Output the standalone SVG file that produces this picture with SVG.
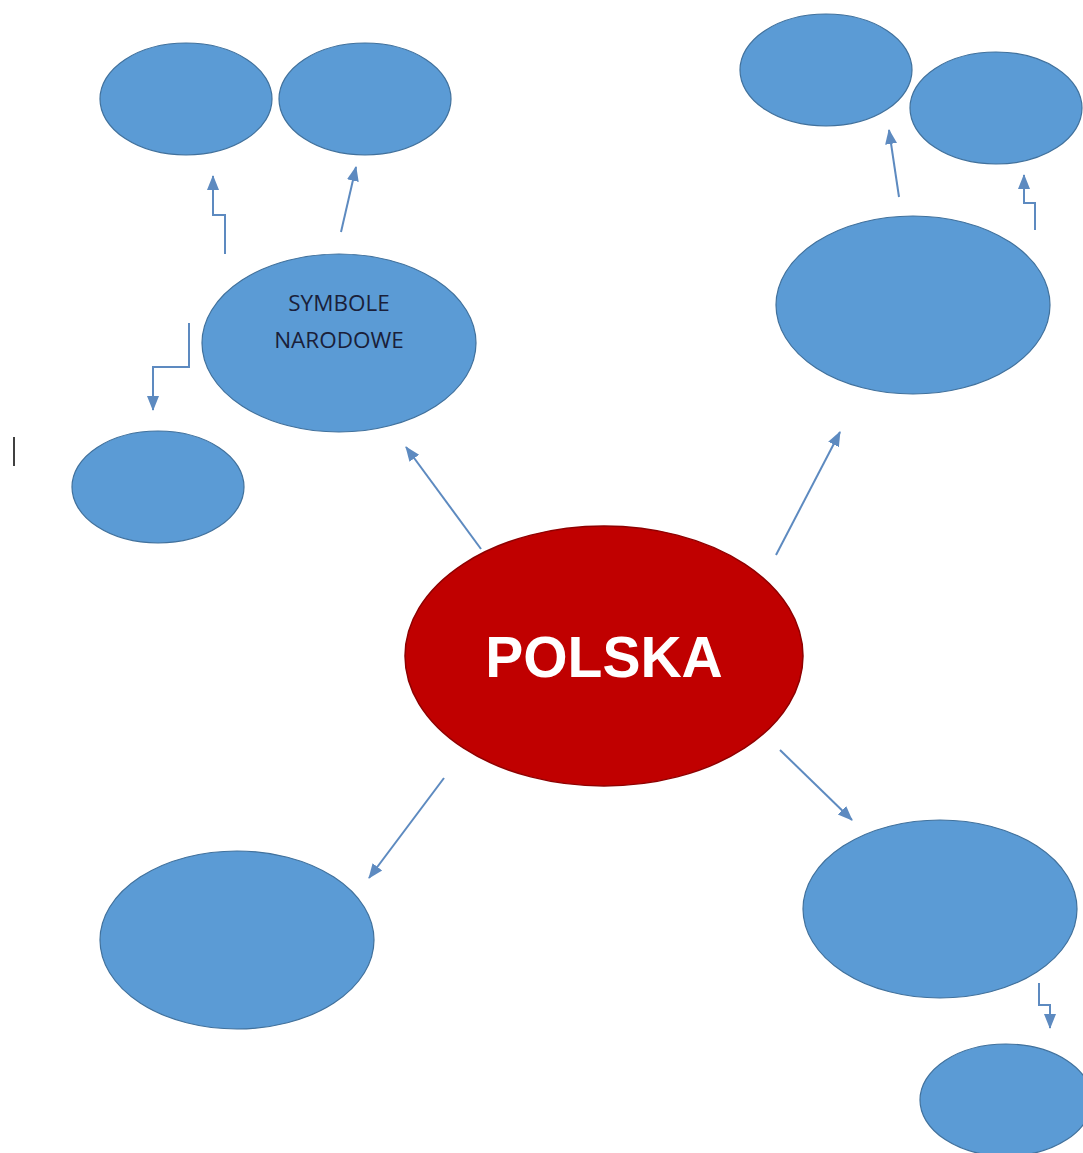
<svg xmlns="http://www.w3.org/2000/svg" width="1083" height="1153" viewBox="0 0 1083 1153">
<style>
.b{fill:#5B9BD5;stroke:#41719C;stroke-width:1.2}
.r{fill:#C00000;stroke:#8F0000;stroke-width:1.5}
.c{fill:none;stroke:#5D8AC0;stroke-width:2}
.t{font-family:"Open Sans","Liberation Sans",sans-serif;font-size:22.5px;fill:#1A1F3A;text-anchor:middle}
.p{font-family:"Liberation Sans",Arial,sans-serif;font-weight:bold;font-size:57px;fill:#FFFFFF;text-anchor:middle}
</style>
<defs>
<marker id="ah" markerUnits="userSpaceOnUse" markerWidth="15" markerHeight="15" viewBox="0 0 15 15" refX="14" refY="7.5" orient="auto">
<path d="M0,1.5 L15,7.5 L0,13.5 Z" fill="#5D8AC0"/>
</marker>
</defs>
<rect width="1083" height="1153" fill="#FFFFFF"/>
<g id="connectors">
<path class="c" d="M481,549 L406,447" marker-end="url(#ah)"/>
<path class="c" d="M776,555 L840,432" marker-end="url(#ah)"/>
<path class="c" d="M444,778 L369,878" marker-end="url(#ah)"/>
<path class="c" d="M780,750 L852,820" marker-end="url(#ah)"/>
<path class="c" d="M225,254 L225,215 L213,215 L213,176" marker-end="url(#ah)"/>
<path class="c" d="M341,232 L356,167" marker-end="url(#ah)"/>
<path class="c" d="M189,323 L189,367 L153,367 L153,410" marker-end="url(#ah)"/>
<path class="c" d="M899,197 L889,130" marker-end="url(#ah)"/>
<path class="c" d="M1035,230 L1035,203 L1024,203 L1024,175" marker-end="url(#ah)"/>
<path class="c" d="M1039,983 L1039,1005 L1050,1005 L1050,1028" marker-end="url(#ah)"/>
</g>
<g id="node-tl-a"><ellipse class="b" cx="186" cy="99" rx="86" ry="56"/></g>
<g id="node-tl-b"><ellipse class="b" cx="365" cy="99" rx="86" ry="56"/></g>
<g id="node-symbole"><ellipse class="b" cx="339" cy="343" rx="137" ry="89"/>
<text class="t" x="339" y="311">SYMBOLE</text>
<text class="t" x="339" y="348">NARODOWE</text></g>
<g id="node-left-small"><ellipse class="b" cx="158" cy="487" rx="86" ry="56"/></g>
<g id="node-tr-a"><ellipse class="b" cx="826" cy="70" rx="86" ry="56"/></g>
<g id="node-tr-b"><ellipse class="b" cx="996" cy="108" rx="86" ry="56"/></g>
<g id="node-tr-big"><ellipse class="b" cx="913" cy="305" rx="137" ry="89"/></g>
<g id="node-polska"><ellipse class="r" cx="604" cy="656" rx="199" ry="130"/>
<text class="p" x="604" y="677">POLSKA</text></g>
<g id="node-bl"><ellipse class="b" cx="237" cy="940" rx="137" ry="89"/></g>
<g id="node-br"><ellipse class="b" cx="940" cy="909" rx="137" ry="89"/></g>
<g id="node-br-small"><ellipse class="b" cx="1006" cy="1100" rx="86" ry="56"/></g>
<line x1="14" y1="437" x2="14" y2="466" stroke="#404040" stroke-width="2"/>
</svg>
